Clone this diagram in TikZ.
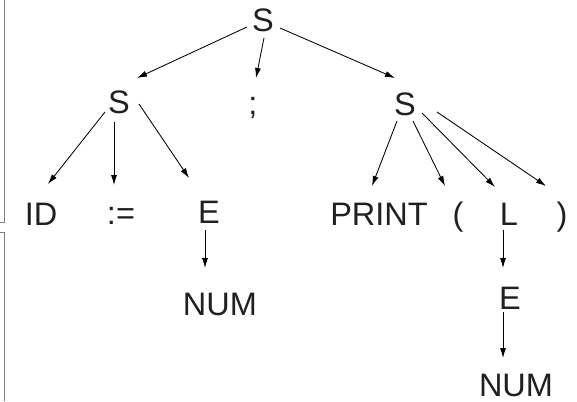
\documentclass[tikz,border=0pt]{standalone}
\usepackage{fontspec}
\setmainfont{Liberation Sans}
\usepackage{xcolor}
\usepackage{tikz}
\usetikzlibrary{arrows.meta}
\definecolor{ink}{HTML}{231F20}

\begin{document}
\begin{tikzpicture}[x=1pt,y=-1pt,
  sym/.style={inner sep=0pt,text height=23pt,text depth=0pt,text=ink,font=\fontsize{32.5}{38}\selectfont},
  arr/.style={line width=0.85pt,-{Latex[length=10pt,width=6pt]}}]
\useasboundingbox(0,0)rectangle(577,401);
% frame edges on the left
\draw[gray,line width=0.7pt](4,0)--(4,222)--(0,222);
\draw[gray,line width=0.7pt](0,232)--(4,232)--(4,401);

% tree
\node[sym](tS)at(263,20){S};
\node[sym](lS)at(119,102){S};
\node[sym](semi)at(253,103){;};
\node[sym](rS)at(405,104){S};
\node[sym](id)at(41,214){ID};
\node[sym](asg)at(121,213){:=};
\node[sym](eL)at(209,212){E};
\node[sym](numL)at(220,304){NUM};
\node[sym](print)at(379,214){PRINT};
\node[sym](lpar)at(458,214){(};
\node[sym](L)at(509,214){L};
\node[sym](rpar)at(562,214){)};
\node[sym](eR)at(510,298){E};
\node[sym](numR)at(516,385){NUM};

\draw[arr]([shift={(-16,7)}]tS.center)--([shift={(18,-24)}]lS.center);
\draw[arr]([shift={(1,18)}]tS.center)--([shift={(3,-25)}]semi.center);
\draw[arr]([shift={(17,8)}]tS.center)--([shift={(-10,-26)}]rS.center);

\draw[arr]([shift={(-14,10)}]lS.center)--([shift={(7,-30)}]id.center);
\draw[arr]([shift={(-5,20)}]lS.center)--([shift={(-7,-28)}]asg.center);
\draw[arr]([shift={(20,2)}]lS.center)--([shift={(-20,-34)}]eL.center);
\draw[arr]([shift={(-4,18)}]eL.center)--([shift={(-15,-36)}]numL.center);

\draw[arr]([shift={(-8,17)}]rS.center)--([shift={(-7,-28)}]print.center);
\draw[arr]([shift={(8,17)}]rS.center)--([shift={(-13,-28)}]lpar.center);
\draw[arr]([shift={(17,9)}]rS.center)--([shift={(-14,-27)}]L.center);
\draw[arr]([shift={(32,8)}]rS.center)--([shift={(-16,-28)}]rpar.center);
\draw[arr]([shift={(-6,16)}]L.center)--([shift={(-7,-30)}]eR.center);
\draw[arr]([shift={(-7,14)}]eR.center)--([shift={(-13,-27)}]numR.center);
\end{tikzpicture}
\end{document}
